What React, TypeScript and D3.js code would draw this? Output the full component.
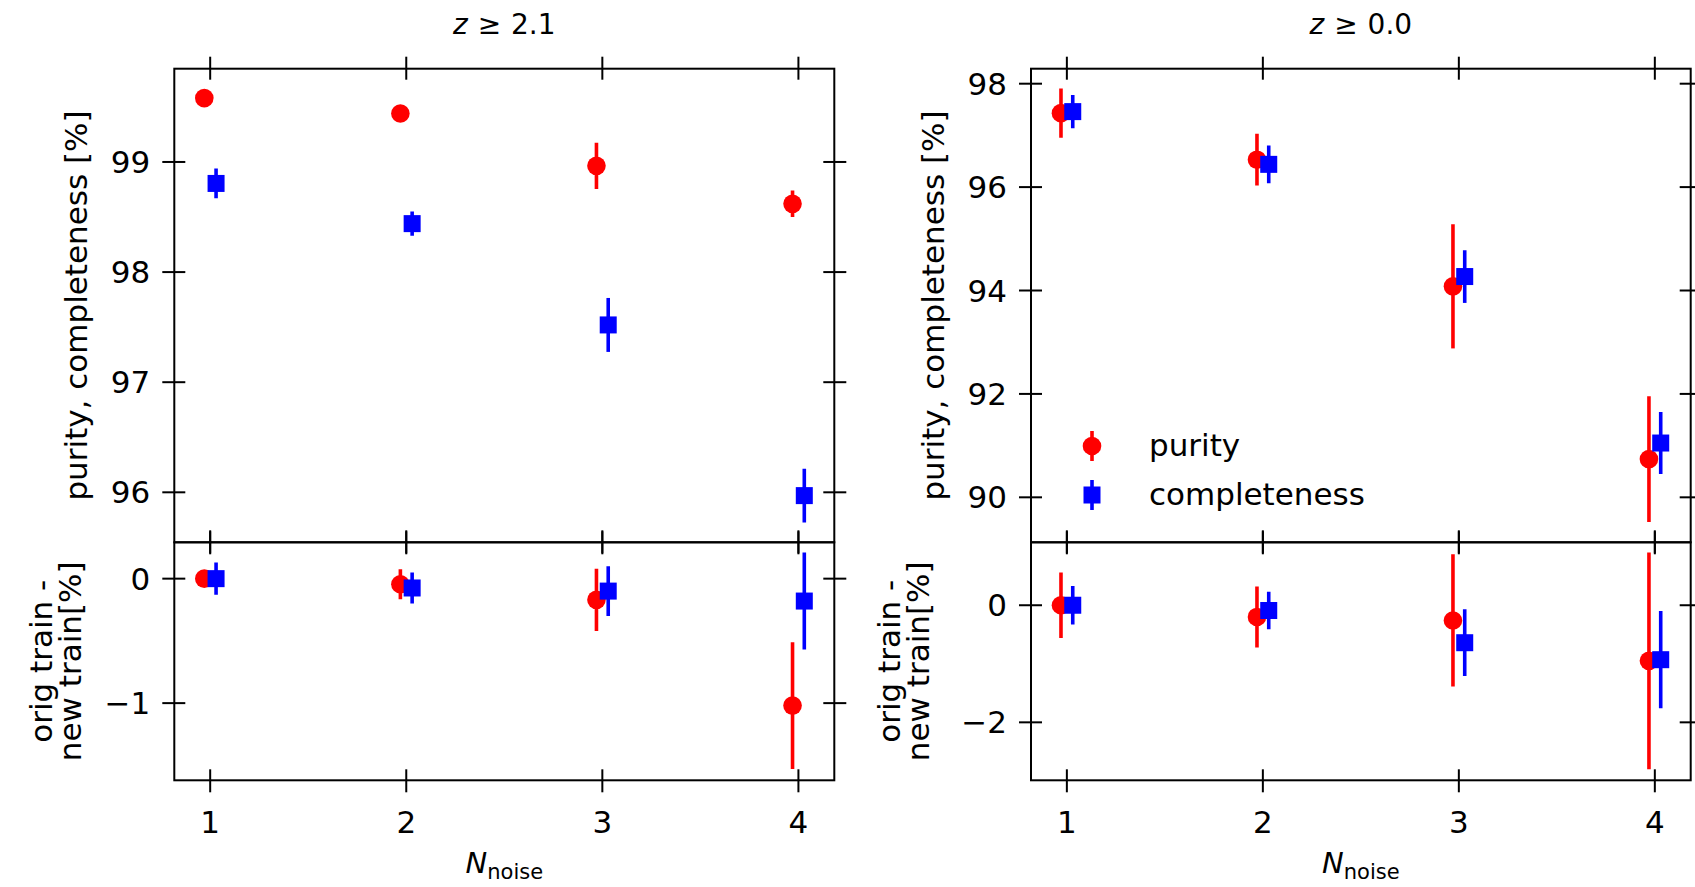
import React from 'react';
import * as d3 from 'd3';

const nNoise = [1, 2, 3, 4];

// z >= 2.1 panel
const leftPurity = [99.58, 99.44, 98.965, 98.62];
const leftPurityErr = [0.03, 0.03, 0.21, 0.12];
const leftCompl = [98.805, 98.44, 97.52, 95.97];
const leftComplErr = [0.135, 0.11, 0.245, 0.245];
const leftDiffPurity = [0.0, -0.045, -0.17, -1.02];
const leftDiffPurityErr = [0.03, 0.12, 0.25, 0.51];
const leftDiffCompl = [0.0, -0.075, -0.1, -0.18];
const leftDiffComplErr = [0.13, 0.125, 0.2, 0.39];

// z >= 0.0 panel
const rightPurity = [97.43, 96.53, 94.08, 90.74];
const rightPurityErr = [0.475, 0.5, 1.2, 1.215];
const rightCompl = [97.46, 96.44, 94.27, 91.05];
const rightComplErr = [0.32, 0.365, 0.51, 0.6];
const rightDiffPurity = [0.0, -0.2, -0.26, -0.95];
const rightDiffPurityErr = [0.56, 0.52, 1.13, 1.85];
const rightDiffCompl = [0.0, -0.09, -0.64, -0.93];
const rightDiffComplErr = [0.33, 0.32, 0.57, 0.83];

const xTicks = [1, 2, 3, 4];
const leftTopTicks = [96, 97, 98, 99];
const leftBottomTicks = [-1, 0];
const rightTopTicks = [90, 92, 94, 96, 98];
const rightBottomTicks = [-2, 0];

const xDomain: [number, number] = [0.817, 4.183];
const leftTopDomain: [number, number] = [95.546, 99.847];
const leftBottomDomain: [number, number] = [-1.62, 0.292];
const rightTopDomain: [number, number] = [89.13, 98.29];
const rightBottomDomain: [number, number] = [-2.99, 1.075];

const titles = ['2.1', '0.0'];
const legendLabels = ['purity', 'completeness'];

const RED = '#ff0000';
const BLUE = '#0000ff';
const FONT = 'DejaVu Sans';
const OFFSET = 0.03;

const fmt = (v: number) => (v < 0 ? '\u2212' + Math.abs(v) : String(v));

type Series = { vals: number[]; errs: number[] };

function SubAxes(props: {
  x0: number; x1: number; y0: number; y1: number;
  domain: [number, number]; ticks: number[];
  red: Series; blue: Series; showXLabels: boolean;
}) {
  const { x0, x1, y0, y1, domain, ticks, red, blue, showXLabels } = props;
  const xs = d3.scaleLinear().domain(xDomain).range([x0, x1]);
  const ys = d3.scaleLinear().domain(domain).range([y1, y0]);
  const tOut = 12, tIn = 11;
  const sq = 17;
  return (
    <g>
      <defs>
        <clipPath id={`clip-${x0}-${y0}`}>
          <rect x={x0} y={y0} width={x1 - x0} height={y1 - y0} />
        </clipPath>
      </defs>
      <g clipPath={`url(#clip-${x0}-${y0})`}>
        {nNoise.map((n, i) => (
          <g key={'r' + i}>
            <line x1={xs(n - OFFSET)} x2={xs(n - OFFSET)} y1={ys(red.vals[i] - red.errs[i])} y2={ys(red.vals[i] + red.errs[i])} stroke={RED} strokeWidth={3.6} />
            <circle cx={xs(n - OFFSET)} cy={ys(red.vals[i])} r={9.3} fill={RED} />
          </g>
        ))}
        {nNoise.map((n, i) => (
          <g key={'b' + i}>
            <line x1={xs(n + OFFSET)} x2={xs(n + OFFSET)} y1={ys(blue.vals[i] - blue.errs[i])} y2={ys(blue.vals[i] + blue.errs[i])} stroke={BLUE} strokeWidth={3.6} />
            <rect x={xs(n + OFFSET) - sq / 2} y={ys(blue.vals[i]) - sq / 2} width={sq} height={sq} fill={BLUE} />
          </g>
        ))}
      </g>
      <rect x={x0} y={y0} width={x1 - x0} height={y1 - y0} fill="none" stroke="#000" strokeWidth={2} />
      {xTicks.map((t) => (
        <g key={'xt' + t}>
          <line x1={xs(t)} x2={xs(t)} y1={y0 - tOut} y2={y0 + tIn} stroke="#000" strokeWidth={2} />
          <line x1={xs(t)} x2={xs(t)} y1={y1 - tIn} y2={y1 + tOut} stroke="#000" strokeWidth={2} />
          {showXLabels && (
            <text x={xs(t)} y={y1 + 53} textAnchor="middle" fontFamily={FONT} fontSize={31} fill="#000">{String(t)}</text>
          )}
        </g>
      ))}
      {ticks.map((t) => (
        <g key={'yt' + t}>
          <line x1={x0 - tOut} x2={x0 + tIn} y1={ys(t)} y2={ys(t)} stroke="#000" strokeWidth={2} />
          <line x1={x1 - tIn} x2={x1 + tOut} y1={ys(t)} y2={ys(t)} stroke="#000" strokeWidth={2} />
          <text x={x0 - 24} y={ys(t)} dy="0.36em" textAnchor="end" fontFamily={FONT} fontSize={31} fill="#000">{fmt(t)}</text>
        </g>
      ))}
    </g>
  );
}

function Column(props: {
  x0: number; x1: number; title: string;
  topDomain: [number, number]; topTicks: number[];
  bottomDomain: [number, number]; bottomTicks: number[];
  p: Series; c: Series; dp: Series; dc: Series; legend: boolean;
  lab1: number; lab2: number;
}) {
  const { x0, x1, title, topDomain, topTicks, bottomDomain, bottomTicks, p, c, dp, dc, legend, lab1, lab2 } = props;
  const yTop = 68.7, yMid = 542.3, yBot = 780.3;
  const cx = (x0 + x1) / 2;
  const lx = x0 + 61, ly1 = 446, ly2 = 495;
  return (
    <g>
      <text x={cx} y={34} textAnchor="middle" fontFamily={FONT} fontSize={28} fill="#000">
        <tspan fontStyle="italic">z</tspan>
        <tspan dx={1}>{' \u2265 '}</tspan>
        <tspan dx={1}>{title}</tspan>
      </text>
      <SubAxes x0={x0} x1={x1} y0={yTop} y1={yMid} domain={topDomain} ticks={topTicks} red={p} blue={c} showXLabels={false} />
      <SubAxes x0={x0} x1={x1} y0={yMid} y1={yBot} domain={bottomDomain} ticks={bottomTicks} red={dp} blue={dc} showXLabels={true} />
      <text transform={`translate(${x0 - 98},${(yTop + yMid) / 2}) rotate(-90)`} textAnchor="middle" dominantBaseline="central" fontFamily={FONT} fontSize={31} fill="#000">purity, completeness [%]</text>
      <text transform={`translate(${x0 - lab1},${(yMid + yBot) / 2}) rotate(-90)`} textAnchor="middle" dominantBaseline="central" fontFamily={FONT} fontSize={31} fill="#000">orig train -</text>
      <text transform={`translate(${x0 - lab2},${(yMid + yBot) / 2}) rotate(-90)`} textAnchor="middle" dominantBaseline="central" fontFamily={FONT} fontSize={31} fill="#000">new train[%]</text>
      <text x={cx} y={873} textAnchor="middle" fontFamily={FONT} fontSize={29} fill="#000">
        <tspan fontStyle="italic">N</tspan>
        <tspan fontSize={21} dy={6}>noise</tspan>
      </text>
      {legend && (
        <g>
          <line x1={lx} x2={lx} y1={ly1 - 15} y2={ly1 + 15} stroke={RED} strokeWidth={3.6} />
          <circle cx={lx} cy={ly1} r={9.3} fill={RED} />
          <text x={lx + 57} y={ly1 + 10} fontFamily={FONT} fontSize={31} fill="#000">{legendLabels[0]}</text>
          <line x1={lx} x2={lx} y1={ly2 - 15} y2={ly2 + 15} stroke={BLUE} strokeWidth={3.6} />
          <rect x={lx - 8.5} y={ly2 - 8.5} width={17} height={17} fill={BLUE} />
          <text x={lx + 57} y={ly2 + 10} fontFamily={FONT} fontSize={31} fill="#000">{legendLabels[1]}</text>
        </g>
      )}
    </g>
  );
}

export default function App() {
  return (
    <svg width={1695} height={887} style={{ position: 'absolute', left: 0, top: 0, background: '#fff' }}>
      <rect x={0} y={0} width={1695} height={887} fill="#fff" />
      <Column x0={174.3} x1={834.3} title={titles[0]}
        topDomain={leftTopDomain} topTicks={leftTopTicks}
        bottomDomain={leftBottomDomain} bottomTicks={leftBottomTicks}
        p={{ vals: leftPurity, errs: leftPurityErr }} c={{ vals: leftCompl, errs: leftComplErr }}
        dp={{ vals: leftDiffPurity, errs: leftDiffPurityErr }} dc={{ vals: leftDiffCompl, errs: leftDiffComplErr }}
        legend={false} lab1={133} lab2={104} />
      <Column x0={1031} x1={1690.7} title={titles[1]}
        topDomain={rightTopDomain} topTicks={rightTopTicks}
        bottomDomain={rightBottomDomain} bottomTicks={rightBottomTicks}
        p={{ vals: rightPurity, errs: rightPurityErr }} c={{ vals: rightCompl, errs: rightComplErr }}
        dp={{ vals: rightDiffPurity, errs: rightDiffPurityErr }} dc={{ vals: rightDiffCompl, errs: rightDiffComplErr }}
        legend={true} lab1={142} lab2={113} />
    </svg>
  );
}
